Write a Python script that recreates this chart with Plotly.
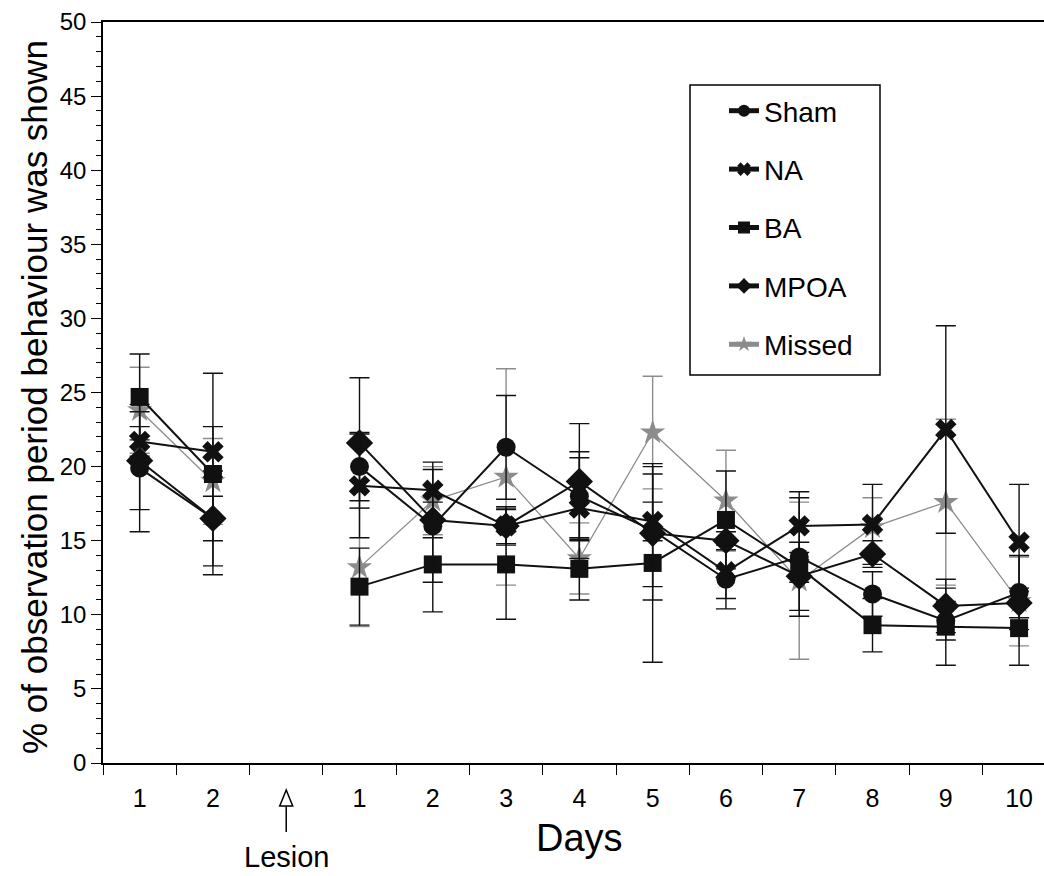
import plotly.graph_objects as go

# Observation days: two pre-lesion days, an empty slot for the lesion, then ten post-lesion days
day_labels = ["1", "2", "", "1", "2", "3", "4", "5", "6", "7", "8", "9", "10"]
lesion_slot = 2

sham = [19.9, 16.5, None, 20.0, 16.0, 21.3, 18.0, 15.7, 12.4, 13.9, 11.4, 9.6, 11.5]
sham_err = [4.3, 3.2, None, 2.3, 3.8, 3.5, 3.0, 3.8, 2.0, 4.0, 1.5, 1.3, 2.5]

na = [21.7, 21.0, None, 18.7, 18.4, 16.0, 17.2, 16.3, 12.9, 16.0, 16.1, 22.5, 14.9]
na_err = [1.0, 1.7, None, 3.5, 1.9, 1.3, 3.4, 1.3, 1.8, 2.3, 2.7, 7.0, 3.9]

ba = [24.7, 19.5, None, 11.9, 13.4, 13.4, 13.1, 13.5, 16.4, 13.2, 9.3, 9.2, 9.1]
ba_err = [2.9, 6.8, None, 2.6, 3.2, 3.7, 2.1, 6.7, 3.3, 1.0, 1.8, 2.6, 2.5]

mpoa = [20.4, 16.5, None, 21.6, 16.4, 16.0, 19.0, 15.5, 15.0, 12.6, 14.1, 10.6, 10.8]
mpoa_err = [3.3, 1.5, None, 4.4, 1.2, 1.2, 3.9, 4.5, 0.6, 2.3, 0.9, 1.8, 1.0]

missed = [23.8, 19.0, None, 13.2, 17.7, 19.3, 13.8, 22.3, 17.7, 12.3, 15.9, 17.6, 10.9]
missed_err = [2.9, 2.9, None, 4.0, 2.3, 7.3, 2.4, 3.8, 3.4, 5.3, 2.0, 5.6, 3.0]

positions = list(range(len(day_labels)))
x_range = [-0.5, 12.34]
FONT = "Liberation Sans, Arial, Helvetica, sans-serif"
BLACK = "#111111"
GREY = "#8c8c8c"

# Plot-area geometry in pixels (used for items placed outside the axes)
W, H = 1044, 876
M_L, M_R, M_T, M_B = 103, 0, 22, 113
plot_w = W - M_L - M_R
plot_h = H - M_T - M_B

def px_x(p):  # paper x from a pixel column
    return (p - M_L) / plot_w

def px_y(p):  # paper y from a pixel row
    return (H - M_B - p) / plot_h

# (name, values, errors, symbol, size, colour, line width, legend rank)
series = [
    ("Missed", missed, missed_err, "star", 19, GREY, 1.3, 5),
    ("BA", ba, ba_err, "square", 18, BLACK, 2.0, 3),
    ("MPOA", mpoa, mpoa_err, "diamond", 21, BLACK, 2.0, 4),
    ("NA", na, na_err, "x", 19, BLACK, 2.0, 2),
    ("Sham", sham, sham_err, "circle", 19, BLACK, 2.0, 1),
]

fig = go.Figure()
for name, vals, errs, sym, size, col, lw, rank in series:
    fig.add_trace(go.Scatter(
        x=positions, y=vals, name=name, mode="lines+markers",
        connectgaps=False, legendrank=rank, legendgroup=name,
        line=dict(color=col, width=lw),
        marker=dict(symbol=sym, size=size, color=col, line=dict(width=0)),
        error_y=dict(type="data", array=errs, symmetric=True,
                     color=col, thickness=1.4, width=10),
    ))

# Legend frame
fig.add_shape(type="rect", xref="paper", yref="paper", layer="above",
              x0=px_x(690), x1=px_x(880), y0=px_y(375), y1=px_y(85),
              fillcolor="white", line=dict(color="black", width=1.5))

# Lesion marker below the axis: open arrowhead, stem and label
lx = (lesion_slot - x_range[0]) / (x_range[1] - x_range[0])
half_w = 6.5 / plot_w
bottom = H - M_B
fig.add_shape(type="path", xref="paper", yref="paper",
              path=(f"M {lx} {px_y(bottom + 27)} L {lx - half_w} {px_y(bottom + 43)} "
                    f"L {lx + half_w} {px_y(bottom + 43)} Z"),
              fillcolor="white", line=dict(color="black", width=1.5))
fig.add_shape(type="line", xref="paper", yref="paper",
              x0=lx, x1=lx, y0=px_y(bottom + 43), y1=px_y(bottom + 69),
              line=dict(color="black", width=1.5))
fig.add_annotation(x=lx, y=px_y(857), xref="paper", yref="paper",
                   text="Lesion", showarrow=False, xanchor="center", yanchor="middle",
                   font=dict(size=29, color="black", family=FONT))

# Axis titles
fig.add_annotation(x=px_x(579), y=px_y(838), xref="paper", yref="paper",
                   text="Days", showarrow=False, xanchor="center", yanchor="middle",
                   font=dict(size=38, color="black", family=FONT))
fig.add_annotation(x=px_x(34), y=px_y(397), xref="paper", yref="paper",
                   text="% of observation period behaviour was shown", textangle=-90,
                   showarrow=False, xanchor="center", yanchor="middle",
                   font=dict(size=35, color="black", family=FONT))

fig.update_layout(
    width=W, height=H,
    margin=dict(l=M_L, r=M_R, t=M_T, b=M_B),
    paper_bgcolor="white", plot_bgcolor="white",
    font=dict(family=FONT, color="black"),
    showlegend=True,
    legend=dict(x=px_x(724), y=px_y(86), xanchor="left", yanchor="top",
                bgcolor="rgba(0,0,0,0)", borderwidth=0,
                font=dict(size=28, color="black", family=FONT),
                tracegroupgap=19, itemsizing="constant"),
    xaxis=dict(range=x_range, tickmode="array", tickvals=positions, ticktext=day_labels,
               ticks="outside", ticklen=0, tickcolor="rgba(0,0,0,0)",
               ticklabelstandoff=12,
               minor=dict(tickmode="array",
                          tickvals=[p - 0.5 for p in positions],
                          ticks="outside", ticklen=10, tickcolor="black", tickwidth=1.3),
               showgrid=False, zeroline=False, showline=True, linecolor="black",
               linewidth=2, mirror=True, tickfont=dict(size=25, color="black")),
    yaxis=dict(range=[0, 50], tickmode="linear", tick0=0, dtick=5,
               ticks="outside", ticklen=10, tickwidth=1.3, tickcolor="black",
               minor=dict(dtick=1, ticks="outside", ticklen=5, tickcolor="black", tickwidth=1.2),
               showgrid=False, zeroline=False, showline=True, linecolor="black",
               linewidth=1.6, tickfont=dict(size=24, color="black")),
)

fig.write_html("out.html")
